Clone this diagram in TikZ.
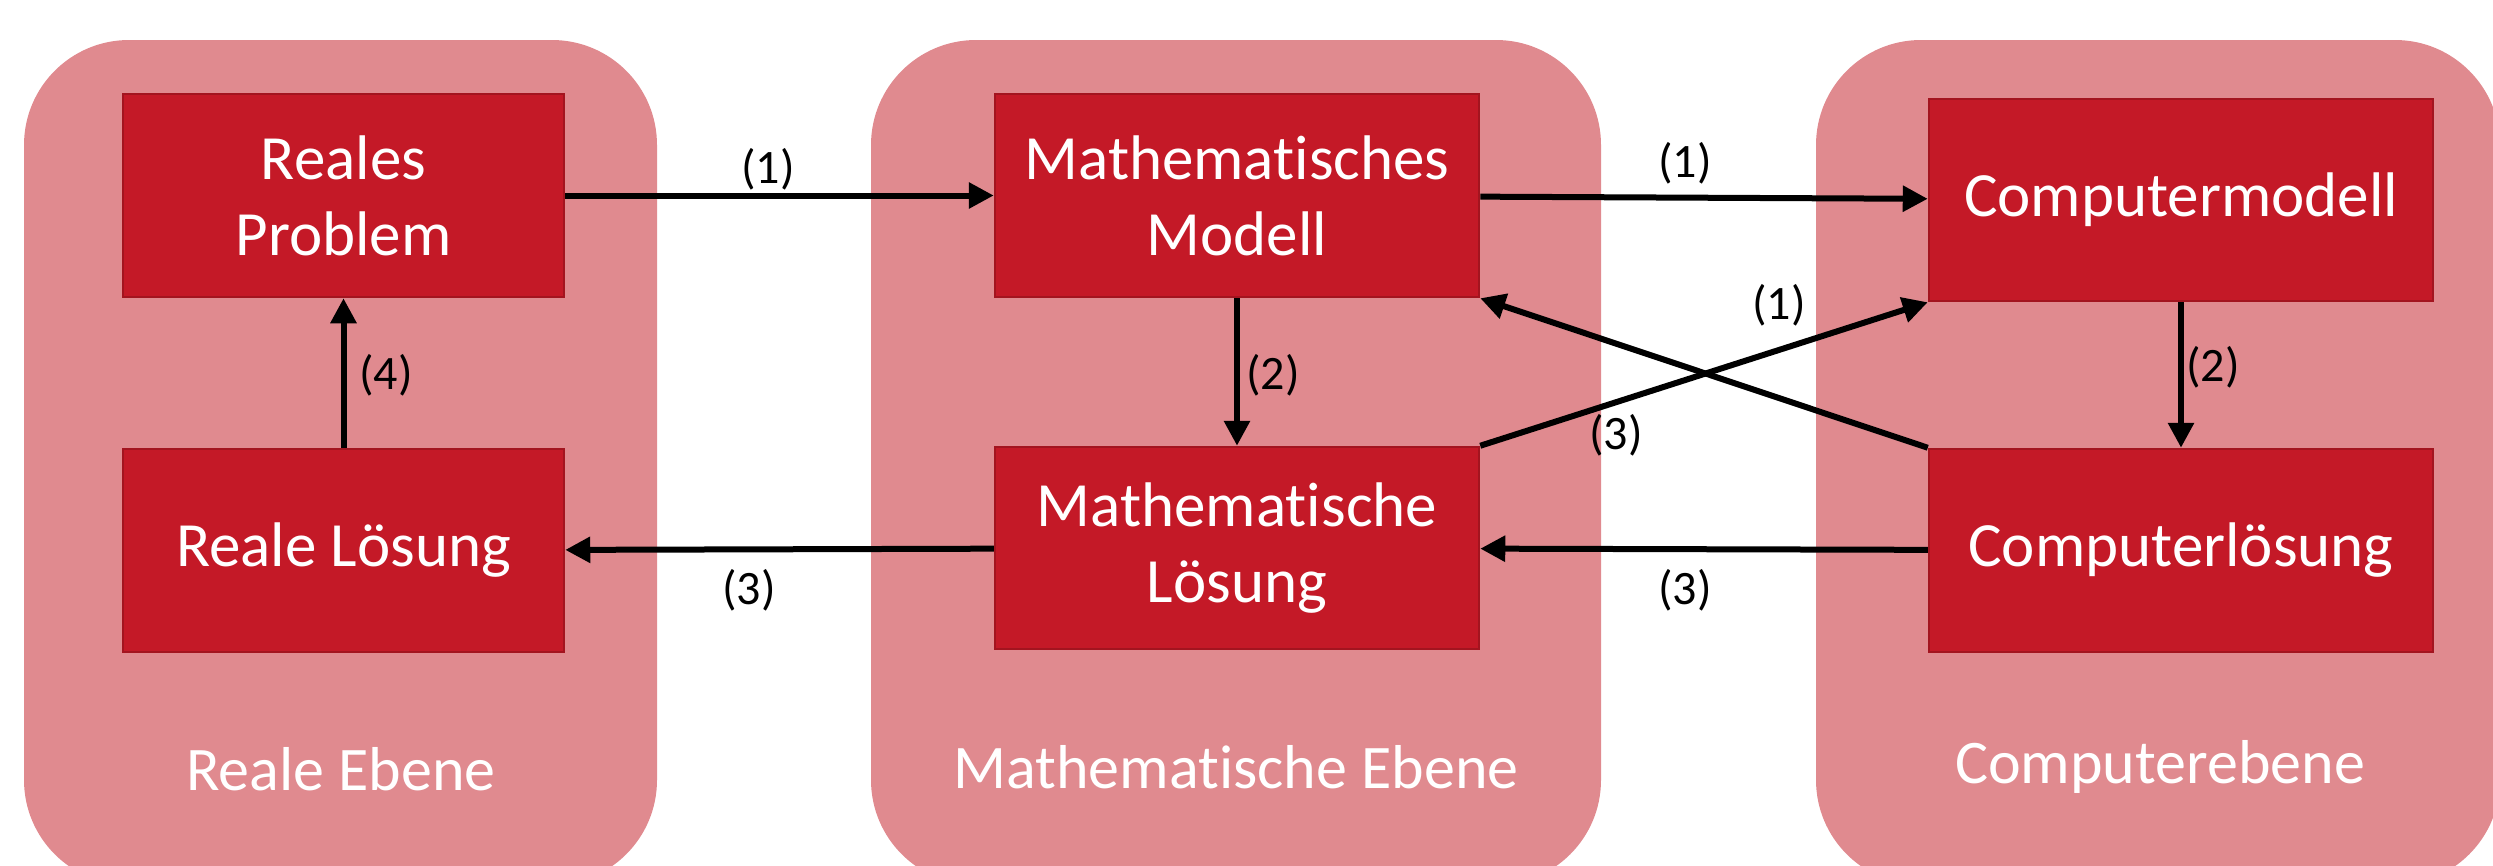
\documentclass[tikz,border=0pt]{standalone}
\usepackage{fontspec}
\setmainfont{Carlito}[Ligatures={NoCommon}]
\usetikzlibrary{arrows.meta}
\definecolor{panelc}{HTML}{E08A8F}
\definecolor{boxc}{HTML}{C41927}
\definecolor{boxb}{HTML}{A3141F}
\tikzset{
  panel/.style={fill=panelc, draw=none, rounded corners=105pt},
  stepbox/.style={rectangle, fill=boxc, draw=boxb, line width=2.5pt, text=white,
    align=center, inner sep=0pt, font=\fontsize{63}{76}\selectfont},
  level/.style={text=white, font=\fontsize{62}{74}\selectfont, inner sep=0pt},
  conn/.style={line width=6pt, -{Triangle[length=25pt,width=25pt]}},
  lab/.style={text=black, font=\fontsize{48}{56}\selectfont, inner sep=0pt}
}
\begin{document}
\begin{tikzpicture}[x=1pt,y=-1pt]
\useasboundingbox (0,0) rectangle (2493,865);
\clip (0,0) rectangle (2493,865);
% panels
\fill[panel] (24,40) rectangle (657,885);
\fill[panel] (871,40) rectangle (1601,885);
\fill[panel] (1816,40) rectangle (2500,885);
\node[level] (lv1) at (341,769) {Reale Ebene};
\node[level] (lv2) at (1236,767) {Mathematische Ebene};
\node[level] (lv3) at (2160,767) {Computerebene};
% boxes
\node[stepbox, minimum width=441pt, minimum height=203pt] (rp) at (343.5,195.5) {Reales\\Problem};
\node[stepbox, minimum width=441pt, minimum height=203pt] (rl) at (343.5,550.5) {Reale Lösung};
\node[stepbox, minimum width=484pt, minimum height=203pt] (mm) at (1237,195.5) {Mathematisches\\Modell};
\node[stepbox, minimum width=484pt, minimum height=202pt] (ml) at (1237,548) {Mathematische\\Lösung};
\node[stepbox, minimum width=504pt, minimum height=202pt] (cm) at (2181,200) {Computermodell};
\node[stepbox, minimum width=504pt, minimum height=203pt] (cl) at (2181,550.5) {Computerlösung};
% connectors
\draw[conn] (rp) -- (mm);
\draw[conn] (mm) -- (cm);
\draw[conn] (mm) -- (ml);
\draw[conn] (cm) -- (cl);
\draw[conn] (rl) -- (rp);
\draw[conn] (cl) -- (ml);
\draw[conn] (ml) -- (rl);
\draw[conn] (ml.north east) -- (cm.south west);
\draw[conn] (cl.north west) -- (mm.south east);
% labels
\node[lab] (l1) at (768,169) {(1)};
\node[lab] (l2) at (1685,163) {(1)};
\node[lab] (l3) at (1779,305) {(1)};
\node[lab] (l4) at (1616,435) {(3)};
\node[lab] (l5) at (1273,375) {(2)};
\node[lab] (l6) at (2213,367) {(2)};
\node[lab] (l7) at (386,375) {(4)};
\node[lab] (l8) at (749,590) {(3)};
\node[lab] (l9) at (1685,590) {(3)};
\end{tikzpicture}
\end{document}
